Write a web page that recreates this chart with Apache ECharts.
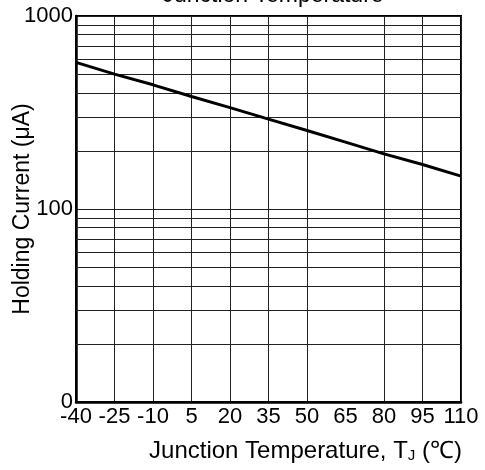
<!DOCTYPE html>
<html>
<head>
<meta charset="utf-8">
<script src="https://cdn.jsdelivr.net/npm/echarts@6/dist/echarts.min.js"></script>
<style>
html,body{margin:0;padding:0;background:#fff;}
#chart{width:485px;height:470px;}
</style>
</head>
<body>
<div id="chart"></div>
<script>
// Data
const temperatures = ['-40', '-25', '-10', '5', '20', '35', '50', '65', '80', '95', '110'];
const holdingCurrent = [575, 500, 440, 383, 335, 292, 255, 222, 193, 170, 148];
const yMin = 10;
const yMax = 1000;
const minorGridValues = [20, 30, 40, 50, 60, 70, 80, 90, 200, 300, 400, 500, 600, 700, 800, 900];
const hiddenGridCategories = ['65'];

const FONT = 'Liberation Sans, Arial, sans-serif';
const chart = echarts.init(document.getElementById('chart'));
chart.setOption({
  animation: false,
  backgroundColor: '#fff',
  title: {
    text: 'Junction Temperature',
    left: 268, textAlign: 'center',
    top: -21,
    textStyle: { fontFamily: FONT, fontSize: 23, fontWeight: 'normal', color: '#000' }
  },
  grid: {
    left: 76, right: 24, top: 16, bottom: 68,
    containLabel: false,
    outerBoundsMode: 'none',
    show: true, borderColor: '#000', borderWidth: 2, backgroundColor: 'transparent'
  },
  xAxis: {
    type: 'category',
    data: temperatures,
    boundaryGap: false,
    axisLine: { show: true, lineStyle: { color: '#000', width: 2.5 } },
    axisTick: { show: false },
    axisLabel: { color: '#000', fontFamily: FONT, fontSize: 22, margin: 4, interval: 0, hideOverlap: false },
    splitLine: {
      show: true,
      interval: function (idx, val) { return hiddenGridCategories.indexOf(val) < 0; },
      lineStyle: { color: '#222', width: 1 }
    },
    name: 'Junction Temperature, T{sub|J} (℃)',
    nameLocation: 'middle',
    nameGap: 37,
    nameMoveOverlap: false,
    nameTextStyle: {
      color: '#000', fontFamily: FONT, fontSize: 24,
      padding: [0, 0, 0, 74],
      rich: { sub: { fontSize: 15, verticalAlign: 'bottom', padding: [8, 0, 0, 0], fontFamily: FONT, color: '#000' } }
    }
  },
  yAxis: {
    type: 'log',
    logBase: 10,
    min: yMin,
    max: yMax,
    axisLine: { show: true, lineStyle: { color: '#000', width: 2.5 } },
    axisTick: { show: false },
    axisLabel: {
      color: '#000', fontFamily: FONT, fontSize: 22, margin: 3,
      formatter: function (v) { return v === 10 ? '0' : String(v); }
    },
    splitLine: { show: true, lineStyle: { color: '#222', width: 1 } },
    name: 'Holding Current (μA)',
    nameLocation: 'middle',
    nameGap: 42,
    nameMoveOverlap: false,
    nameTextStyle: { color: '#000', fontFamily: FONT, fontSize: 23 }
  },
  series: [{
    type: 'line',
    data: holdingCurrent,
    showSymbol: false,
    symbol: 'none',
    lineStyle: { color: '#000', width: 3 },
    z: 5,
    markLine: {
      silent: true,
      symbol: ['none', 'none'],
      label: { show: false },
      lineStyle: { color: '#222', width: 1, type: 'solid' },
      data: minorGridValues.map(v => ({ yAxis: v }))
    }
  }]
});
</script>
</body>
</html>
